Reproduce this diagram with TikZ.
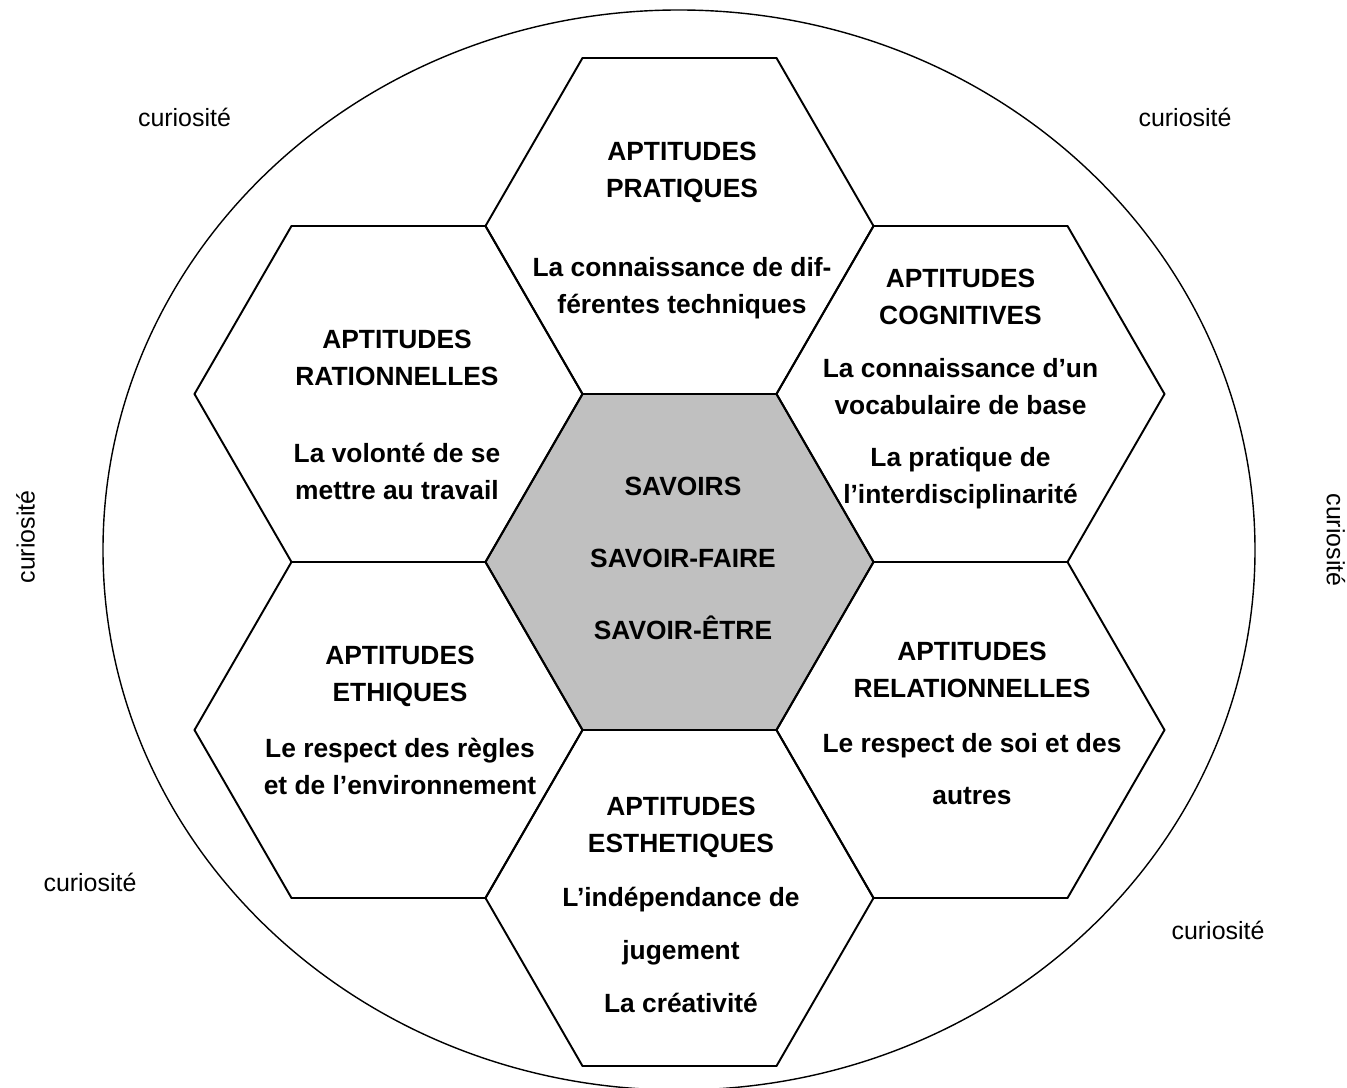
\documentclass[tikz,border=0pt]{standalone}
\usepackage{fontspec}
\setmainfont{Liberation Sans}
\usepackage{tikz}
\usetikzlibrary{shapes.geometric}
\definecolor{savoirgray}{RGB}{192,192,192}

\begin{document}
\begin{tikzpicture}[
    hexcell/.style={regular polygon, regular polygon sides=6, minimum size=7.76cm, inner sep=0pt, draw, line width=1.1pt},
    core/.style={hexcell, fill=savoirgray},
    hextxt/.style={align=center, font=\bfseries\fontsize{15}{21}\selectfont, execute at begin node=\strut, execute at end node=\strut},
    curio/.style={font=\fontsize{14.2}{17}\selectfont},
]
\useasboundingbox (-13.59,-10.5) rectangle (13.35,11.24);
% ----- outer ring
\node[ellipse, draw, line width=0.8pt, minimum width=23.04cm, minimum height=21.6cm, inner sep=0pt] (rim) at (-0.01,0.24) {};
% ----- honeycomb
\node[core] (core) at (0,0) {};
\node[hexcell] (prat) at (0,6.72) {};
\node[hexcell] (ratio) at (-5.82,3.36) {};
\node[hexcell] (cogn) at (5.82,3.36) {};
\node[hexcell] (ethi) at (-5.82,-3.36) {};
\node[hexcell] (rela) at (5.82,-3.36) {};
\node[hexcell] (esth) at (0,-6.72) {};
% ----- texts in the cells
\node[hextxt] (coreTxt) at (0.07,-0.04) {SAVOIRS\\[20pt]SAVOIR-FAIRE\\[20pt]SAVOIR-ÊTRE};
\node[hextxt] (pratTxt) at (0.05,6.58) {APTITUDES\\PRATIQUES\\[24pt]La connaissance de dif-\\férentes techniques};
\node[hextxt] (ratioTxt) at (-5.65,2.83) {APTITUDES\\RATIONNELLES\\[23pt]La volonté de se\\mettre au travail};
\node[hextxt] (cognTxt) at (5.62,3.40) {APTITUDES\\COGNITIVES\\[9pt]La connaissance d’un\\vocabulaire de base\\[9pt]La pratique de\\l’interdisciplinarité};
\node[hextxt] (ethiTxt) at (-5.59,-3.28) {APTITUDES\\ETHIQUES\\[11pt]Le respect des règles\\et de l’environnement};
\node[hextxt] (relaTxt) at (5.85,-3.34) {APTITUDES\\RELATIONNELLES\\[10pt]Le respect de soi et des\\[9pt]autres};
\node[hextxt] (esthTxt) at (0.03,-6.96) {APTITUDES\\ESTHETIQUES\\[10pt]L’indépendance de\\[9pt]jugement\\[9pt]La créativité};
% ----- curiosité all around
\node[curio] (cur1) at (-9.9,8.9) {curiosité};
\node[curio] (cur2) at (10.11,8.9) {curiosité};
\node[curio, rotate=90] (cur3) at (-13.08,0.5) {curiosité};
\node[curio, rotate=-90] (cur4) at (13.13,0.44) {curiosité};
\node[curio] (cur5) at (-11.79,-6.4) {curiosité};
\node[curio] (cur6) at (10.77,-7.36) {curiosité};
\end{tikzpicture}
\end{document}
